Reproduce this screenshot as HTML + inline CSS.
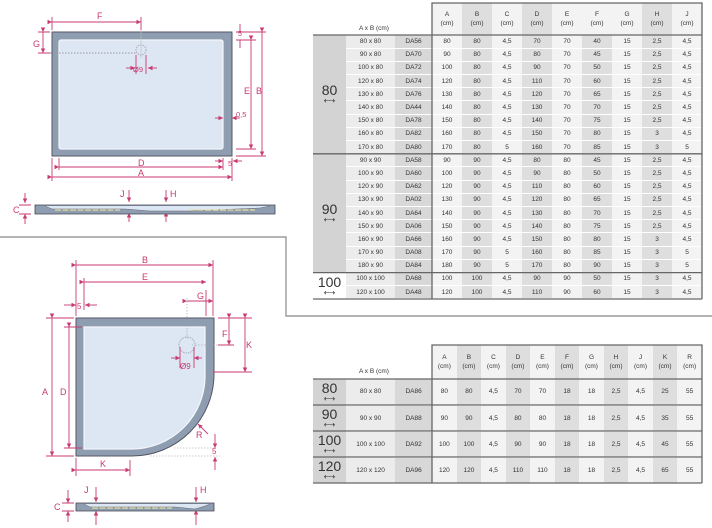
<!DOCTYPE html>
<html><head><meta charset="utf-8"><style>
*{margin:0;padding:0;box-sizing:border-box}
body{width:712px;height:528px;background:#fff;position:relative;overflow:hidden;font-family:"Liberation Sans",sans-serif;color:#333}
svg{position:absolute;left:0;top:0}
table{position:absolute;border-collapse:collapse;table-layout:fixed;font-size:6.5px;text-align:center}
td{padding:0;border-bottom:1px solid #fff;overflow:hidden;white-space:nowrap}
.g{background:#d3d3d3;font-size:14px;line-height:13px;color:#333;border-bottom:none}
.g small{display:block;font-size:8px;line-height:7px}
.s{background:#ececec}
.c{background:#d8d8d8}
.a{background:#f3f3f3}
.b{background:#dedede}
.h td{line-height:9px;border-bottom:none}
.hd{background:#fff}
</style></head><body>
<svg width="712" height="528" viewBox="0 0 712 528">
<defs>
<marker id="ar" markerWidth="6" markerHeight="6" refX="5" refY="3" orient="auto"><path d="M0,0.5L5,3L0,5.5z" fill="#c83a72"/></marker>
</defs>
<g fill="none" stroke="#888" stroke-width="1.2">
<path d="M0,237H286V316H712"/>
</g>
<rect x="52" y="32" width="180" height="124" fill="#8e9eb0" stroke="#556" stroke-width="1"/>
<rect x="59" y="40" width="164" height="109" rx="2" fill="#dde7f4" stroke="#f4f6fa" stroke-width="1.2"/>
<circle cx="141" cy="50" r="5" fill="none" stroke="#aab" stroke-dasharray="1.5,1"/>
<path d="M44,53H136" stroke="#999" stroke-dasharray="1.5,1.5"/>
<path d="M141,20V58" stroke="#bbb" stroke-width=".6"/>
<g stroke="#c83a72" stroke-width="0.9" fill="none">
<path d="M52,22H141" marker-start="url(#ar)" marker-end="url(#ar)"/>
<path d="M52,17V30M141,17V30"/>
<path d="M43,32V53" marker-start="url(#ar)" marker-end="url(#ar)"/>
<path d="M38,32H50M38,53H50"/>
<path d="M126,68H135" marker-end="url(#ar)"/><path d="M157,68H148" marker-end="url(#ar)"/>
<path d="M136,55V74M146,55V74"/>
<path d="M262,32V156" marker-start="url(#ar)" marker-end="url(#ar)"/>
<path d="M251,40V149" marker-start="url(#ar)" marker-end="url(#ar)"/>
<path d="M236,32H266M236,40H256M236,149H256M236,156H266"/>
<path d="M240,24V32M240,40V48"/>
<path d="M215,118H223" marker-end="url(#ar)"/><path d="M240,118H232" marker-end="url(#ar)"/>
<path d="M59,167H223" marker-start="url(#ar)" marker-end="url(#ar)"/>
<path d="M52,177H232" marker-start="url(#ar)" marker-end="url(#ar)"/>
<path d="M52,158V181M59,158V170M223,158V170M232,158V181"/>
<path d="M215,161H223" marker-end="url(#ar)"/><path d="M242,161H233" marker-end="url(#ar)"/>
<path d="M25,193V203" marker-end="url(#ar)"/><path d="M25,224V214" marker-end="url(#ar)"/>
<path d="M19,205H31M19,214H31"/>
<path d="M129,190V202" marker-end="url(#ar)"/><path d="M129,222V213" marker-end="url(#ar)"/>
<path d="M166,190V202" marker-end="url(#ar)"/><path d="M166,222V212" marker-end="url(#ar)"/>
</g>
<path d="M35,205H275V214H35Z" fill="#8e9eb0" stroke="#445" stroke-width=".8"/>
<path d="M45,206L52,209H125L150,211H190L260,208L270,206" fill="#dde7f4" stroke="#667" stroke-width=".5"/>
<path d="M55,210H120M190,210H255" stroke="#e8e0a0" stroke-width="1.2" stroke-dasharray="6,1.5"/>
<g fill="#c83a72" font-size="9" font-family="Liberation Sans">
<text x="97" y="19">F</text><text x="33" y="47">G</text><text x="133" y="72" font-size="7.5">Ø9</text>
<text x="256" y="94">B</text><text x="244" y="94">E</text><text x="238" y="36" font-size="7">5</text><text x="236" y="117" font-size="7.5">0,5</text>
<text x="138" y="166">D</text><text x="138" y="176">A</text><text x="228" y="166" font-size="7.5">5</text>
<text x="13" y="213">C</text><text x="120" y="197">J</text><text x="170" y="197">H</text>
</g>
<path d="M76,318H214V374A82,82 0 0 1 132,456H76Z" fill="#8e9eb0" stroke="#556" stroke-width="1"/>
<path d="M84,327H205V376A73,73 0 0 1 132,449H84Z" fill="#dde7f4" stroke="#f4f6fa" stroke-width="1.2"/>
<circle cx="187" cy="345" r="8" fill="none" stroke="#aab" stroke-dasharray="1.5,1"/>
<path d="M187,298V340M192,345H232M174,448H214M150,456H220" stroke="#999" stroke-width=".6" stroke-dasharray="1.5,1.5"/>
<g stroke="#c83a72" stroke-width="0.9" fill="none">
<path d="M76,265H213" marker-start="url(#ar)" marker-end="url(#ar)"/>
<path d="M84,282H206" marker-start="url(#ar)" marker-end="url(#ar)"/>
<path d="M76,260V316M84,278V310M213,260V316M206,290V316"/>
<path d="M64,305H76" marker-end="url(#ar)"/><path d="M97,305H85" marker-end="url(#ar)"/>
<path d="M187,301H213" marker-start="url(#ar)" marker-end="url(#ar)"/>
<path d="M52,318V456" marker-start="url(#ar)" marker-end="url(#ar)"/>
<path d="M69,327V448" marker-start="url(#ar)" marker-end="url(#ar)"/>
<path d="M46,318H74M46,456H74M64,327H82M64,448H82"/>
<path d="M229,318V345" marker-start="url(#ar)" marker-end="url(#ar)"/>
<path d="M245,318V372" marker-start="url(#ar)" marker-end="url(#ar)"/>
<path d="M218,318H252M218,345H234M214,372H252"/>
<path d="M171,358H180" marker-end="url(#ar)"/><path d="M202,358H194" marker-end="url(#ar)"/>
<path d="M180,347V368M194,347V368"/>
<path d="M208,434L198,424" marker-end="url(#ar)"/>
<path d="M215,434V448" marker-end="url(#ar)"/><path d="M215,470V457" marker-end="url(#ar)"/>
<path d="M76,470H130" marker-start="url(#ar)" marker-end="url(#ar)"/>
<path d="M76,458V476M130,460V476"/>
<path d="M68,490V503" marker-end="url(#ar)"/><path d="M68,522V511" marker-end="url(#ar)"/>
<path d="M62,503H74M62,511H74"/>
<path d="M96,487V502" marker-end="url(#ar)"/><path d="M96,525V511" marker-end="url(#ar)"/>
<path d="M196,487V502" marker-end="url(#ar)"/><path d="M196,525V510" marker-end="url(#ar)"/>
</g>
<path d="M76,503H214V511H76Z" fill="#8e9eb0" stroke="#445" stroke-width=".8"/>
<path d="M84,504L90,507H175L195,509L205,506L210,504" fill="#dde7f4" stroke="#667" stroke-width=".5"/>
<path d="M92,508H172" stroke="#e8e0a0" stroke-width="1.2" stroke-dasharray="6,1.5"/>
<g fill="#c83a72" font-size="9" font-family="Liberation Sans">
<text x="142" y="263">B</text><text x="142" y="280">E</text><text x="77" y="309" font-size="8">5</text><text x="197" y="299">G</text>
<text x="42" y="395">A</text><text x="60" y="395">D</text><text x="222" y="337">F</text><text x="246" y="348">K</text>
<text x="180" y="369" font-size="8">Ø9</text><text x="196" y="438">R</text><text x="212" y="454" font-size="8">5</text>
<text x="100" y="467">K</text><text x="54" y="510">C</text><text x="84" y="493">J</text><text x="200" y="493">H</text>
</g>
</svg>

<table style="left:313px;top:3px;width:389px">
<colgroup><col style="width:33px"><col style="width:49px"><col style="width:37px"><col span="9" style="width:30px"></colgroup>
<tr class="h" style="height:32px"><td colspan="2" class="hd" style="text-align:left;padding-left:46px;vertical-align:bottom;padding-bottom:2px">A x B (cm)</td><td class="hd"></td>
<td class="a">A<br>(cm)</td><td class="b">B<br>(cm)</td><td class="a">C<br>(cm)</td><td class="b">D<br>(cm)</td><td class="a">E<br>(cm)</td><td class="a">F<br>(cm)</td><td class="a">G<br>(cm)</td><td class="b">H<br>(cm)</td><td class="a">J<br>(cm)</td></tr>
<tr style="height:13.2px"><td class="g" rowspan="9">80<small>⟷</small></td><td class="s">80 x 80</td><td class="c">DA56</td><td class="a">80</td><td class="b">80</td><td class="a">4,5</td><td class="b">70</td><td class="a">70</td><td class="b">40</td><td class="a">15</td><td class="b">2,5</td><td class="a">4,5</td></tr>
<tr style="height:13.2px"><td class="s">90 x 80</td><td class="c">DA70</td><td class="a">90</td><td class="b">80</td><td class="a">4,5</td><td class="b">80</td><td class="a">70</td><td class="b">45</td><td class="a">15</td><td class="b">2,5</td><td class="a">4,5</td></tr>
<tr style="height:13.2px"><td class="s">100 x 80</td><td class="c">DA72</td><td class="a">100</td><td class="b">80</td><td class="a">4,5</td><td class="b">90</td><td class="a">70</td><td class="b">50</td><td class="a">15</td><td class="b">2,5</td><td class="a">4,5</td></tr>
<tr style="height:13.2px"><td class="s">120 x 80</td><td class="c">DA74</td><td class="a">120</td><td class="b">80</td><td class="a">4,5</td><td class="b">110</td><td class="a">70</td><td class="b">60</td><td class="a">15</td><td class="b">2,5</td><td class="a">4,5</td></tr>
<tr style="height:13.2px"><td class="s">130 x 80</td><td class="c">DA76</td><td class="a">130</td><td class="b">80</td><td class="a">4,5</td><td class="b">120</td><td class="a">70</td><td class="b">65</td><td class="a">15</td><td class="b">2,5</td><td class="a">4,5</td></tr>
<tr style="height:13.2px"><td class="s">140 x 80</td><td class="c">DA44</td><td class="a">140</td><td class="b">80</td><td class="a">4,5</td><td class="b">130</td><td class="a">70</td><td class="b">70</td><td class="a">15</td><td class="b">2,5</td><td class="a">4,5</td></tr>
<tr style="height:13.2px"><td class="s">150 x 80</td><td class="c">DA78</td><td class="a">150</td><td class="b">80</td><td class="a">4,5</td><td class="b">140</td><td class="a">70</td><td class="b">75</td><td class="a">15</td><td class="b">2,5</td><td class="a">4,5</td></tr>
<tr style="height:13.2px"><td class="s">160 x 80</td><td class="c">DA82</td><td class="a">160</td><td class="b">80</td><td class="a">4,5</td><td class="b">150</td><td class="a">70</td><td class="b">80</td><td class="a">15</td><td class="b">3</td><td class="a">4,5</td></tr>
<tr style="height:13.2px"><td class="s">170 x 80</td><td class="c">DA80</td><td class="a">170</td><td class="b">80</td><td class="a">5</td><td class="b">160</td><td class="a">70</td><td class="b">85</td><td class="a">15</td><td class="b">3</td><td class="a">5</td></tr>
<tr style="height:13.2px"><td class="g" rowspan="9">90<small>⟷</small></td><td class="s">90 x 90</td><td class="c">DA58</td><td class="a">90</td><td class="b">90</td><td class="a">4,5</td><td class="b">80</td><td class="a">80</td><td class="b">45</td><td class="a">15</td><td class="b">2,5</td><td class="a">4,5</td></tr>
<tr style="height:13.2px"><td class="s">100 x 90</td><td class="c">DA60</td><td class="a">100</td><td class="b">90</td><td class="a">4,5</td><td class="b">90</td><td class="a">80</td><td class="b">50</td><td class="a">15</td><td class="b">2,5</td><td class="a">4,5</td></tr>
<tr style="height:13.2px"><td class="s">120 x 90</td><td class="c">DA62</td><td class="a">120</td><td class="b">90</td><td class="a">4,5</td><td class="b">110</td><td class="a">80</td><td class="b">60</td><td class="a">15</td><td class="b">2,5</td><td class="a">4,5</td></tr>
<tr style="height:13.2px"><td class="s">130 x 90</td><td class="c">DA02</td><td class="a">130</td><td class="b">90</td><td class="a">4,5</td><td class="b">120</td><td class="a">80</td><td class="b">65</td><td class="a">15</td><td class="b">2,5</td><td class="a">4,5</td></tr>
<tr style="height:13.2px"><td class="s">140 x 90</td><td class="c">DA64</td><td class="a">140</td><td class="b">90</td><td class="a">4,5</td><td class="b">130</td><td class="a">80</td><td class="b">70</td><td class="a">15</td><td class="b">2,5</td><td class="a">4,5</td></tr>
<tr style="height:13.2px"><td class="s">150 x 90</td><td class="c">DA06</td><td class="a">150</td><td class="b">90</td><td class="a">4,5</td><td class="b">140</td><td class="a">80</td><td class="b">75</td><td class="a">15</td><td class="b">2,5</td><td class="a">4,5</td></tr>
<tr style="height:13.2px"><td class="s">160 x 90</td><td class="c">DA66</td><td class="a">160</td><td class="b">90</td><td class="a">4,5</td><td class="b">150</td><td class="a">80</td><td class="b">80</td><td class="a">15</td><td class="b">3</td><td class="a">4,5</td></tr>
<tr style="height:13.2px"><td class="s">170 x 90</td><td class="c">DA08</td><td class="a">170</td><td class="b">90</td><td class="a">5</td><td class="b">160</td><td class="a">80</td><td class="b">85</td><td class="a">15</td><td class="b">3</td><td class="a">5</td></tr>
<tr style="height:13.2px"><td class="s">180 x 90</td><td class="c">DA84</td><td class="a">180</td><td class="b">90</td><td class="a">5</td><td class="b">170</td><td class="a">80</td><td class="b">90</td><td class="a">15</td><td class="b">3</td><td class="a">5</td></tr>
<tr style="height:13.2px"><td class="g" rowspan="2" style="background:#fff">100<small>⟷</small></td><td class="s">100 x 100</td><td class="c">DA68</td><td class="a">100</td><td class="b">100</td><td class="a">4,5</td><td class="b">90</td><td class="a">90</td><td class="b">50</td><td class="a">15</td><td class="b">3</td><td class="a">4,5</td></tr>
<tr style="height:13.2px"><td class="s">120 x 100</td><td class="c">DA48</td><td class="a">120</td><td class="b">100</td><td class="a">4,5</td><td class="b">110</td><td class="a">90</td><td class="b">60</td><td class="a">15</td><td class="b">3</td><td class="a">4,5</td></tr>
</table>

<table style="left:313px;top:345px;width:389px">
<colgroup><col style="width:33px"><col style="width:49px"><col style="width:37px"><col span="11" style="width:24.5px"></colgroup>
<tr class="h" style="height:34px"><td colspan="2" class="hd" style="text-align:left;padding-left:46px;vertical-align:bottom;padding-bottom:3px">A x B (cm)</td><td class="hd"></td>
<td class="a">A<br>(cm)</td><td class="b">B<br>(cm)</td><td class="a">C<br>(cm)</td><td class="b">D<br>(cm)</td><td class="a">E<br>(cm)</td><td class="b">F<br>(cm)</td><td class="a">G<br>(cm)</td><td class="b">H<br>(cm)</td><td class="a">J<br>(cm)</td><td class="b">K<br>(cm)</td><td class="a">R<br>(cm)</td></tr>
<tr style="height:26px"><td class="g">80<small>⟷</small></td><td class="s">80 x 80</td><td class="c">DA86</td><td class="a">80</td><td class="b">80</td><td class="a">4,5</td><td class="b">70</td><td class="a">70</td><td class="b">18</td><td class="a">18</td><td class="b">2,5</td><td class="a">4,5</td><td class="b">25</td><td class="a">55</td></tr>
<tr style="height:26px"><td class="g">90<small>⟷</small></td><td class="s">90 x 90</td><td class="c">DA88</td><td class="a">90</td><td class="b">90</td><td class="a">4,5</td><td class="b">80</td><td class="a">80</td><td class="b">18</td><td class="a">18</td><td class="b">2,5</td><td class="a">4,5</td><td class="b">35</td><td class="a">55</td></tr>
<tr style="height:26px"><td class="g">100<small>⟷</small></td><td class="s">100 x 100</td><td class="c">DA92</td><td class="a">100</td><td class="b">100</td><td class="a">4,5</td><td class="b">90</td><td class="a">90</td><td class="b">18</td><td class="a">18</td><td class="b">2,5</td><td class="a">4,5</td><td class="b">45</td><td class="a">55</td></tr>
<tr style="height:26px"><td class="g">120<small>⟷</small></td><td class="s">120 x 120</td><td class="c">DA96</td><td class="a">120</td><td class="b">120</td><td class="a">4,5</td><td class="b">110</td><td class="a">110</td><td class="b">18</td><td class="a">18</td><td class="b">2,5</td><td class="a">4,5</td><td class="b">65</td><td class="a">55</td></tr>
</table>

<svg width="712" height="528" viewBox="0 0 712 528" style="pointer-events:none">
<g fill="none" stroke="#666" stroke-width="1.3">
<path d="M432,35V3H702V299"/>
<path d="M313,35H702M313,153.8H702M313,272.6H702M313,299H702M432,35V299"/>
<path d="M432,379V345H702V483"/>
<path d="M313,379H702M313,405H702M313,431H702M313,457H702M313,483H702M432,379V483"/>
</g>
</svg>
</body></html>
